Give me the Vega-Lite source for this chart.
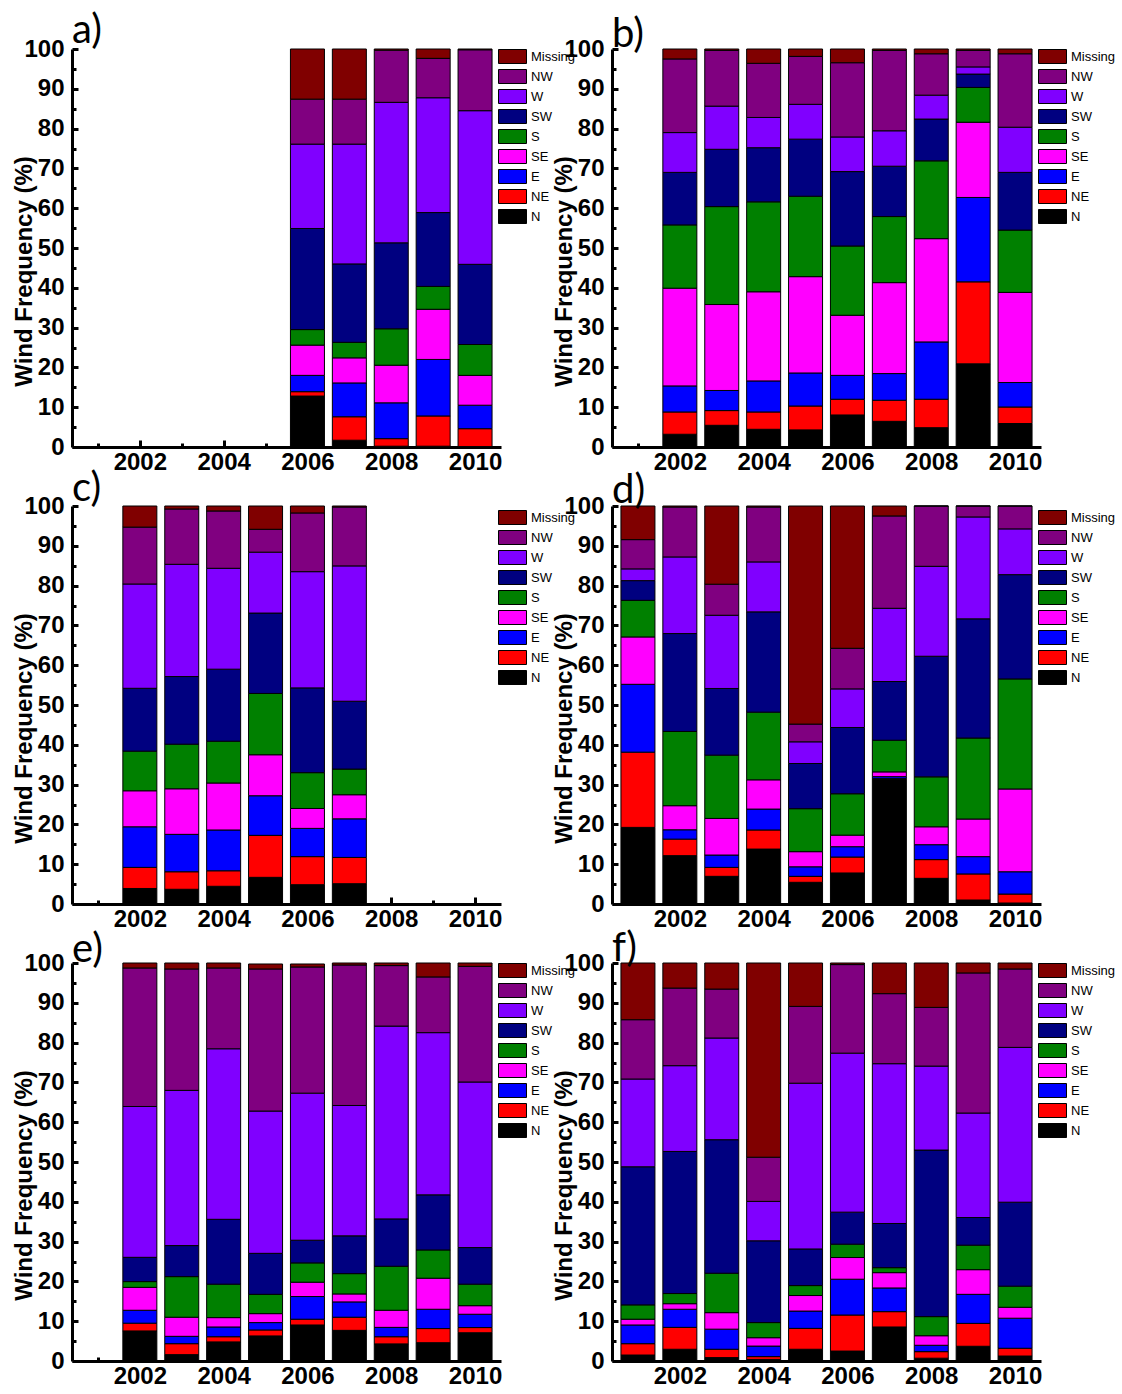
{
  "$schema": "https://vega.github.io/schema/vega-lite/v6.json",
  "padding": {"left": 12, "top": 11, "right": 5, "bottom": 0},
  "background": "white",
  "datasets": {
    "wind": [
      {"p":"a","year":2006,"N":12.8,"NE":1.1,"E":4.1,"SE":7.6,"S":3.9,"SW":25.4,"W":21.2,"NW":11.3,"Missing":12.6},
      {"p":"a","year":2007,"N":1.7,"NE":5.9,"E":8.5,"SE":6.3,"S":3.9,"SW":19.7,"W":30.1,"NW":11.3,"Missing":12.6},
      {"p":"a","year":2008,"N":0.2,"NE":1.9,"E":9.0,"SE":9.45,"S":9.15,"SW":21.6,"W":35.3,"NW":13.1,"Missing":0.3},
      {"p":"a","year":2009,"N":0.2,"NE":7.6,"E":14.2,"SE":12.6,"S":5.75,"SW":18.55,"W":28.85,"NW":9.9,"Missing":2.35},
      {"p":"a","year":2010,"N":0.1,"NE":4.5,"E":5.9,"SE":7.5,"S":7.75,"SW":20.15,"W":38.6,"NW":15.3,"Missing":0.2},
      {"p":"b","year":2002,"N":3.2,"NE":5.6,"E":6.55,"SE":24.55,"S":15.9,"SW":13.2,"W":10.0,"NW":18.5,"Missing":2.5},
      {"p":"b","year":2003,"N":5.45,"NE":3.7,"E":5.05,"SE":21.6,"S":24.6,"SW":14.4,"W":10.85,"NW":14.0,"Missing":0.35},
      {"p":"b","year":2004,"N":4.45,"NE":4.35,"E":7.8,"SE":22.4,"S":22.6,"SW":13.6,"W":7.6,"NW":13.6,"Missing":3.6},
      {"p":"b","year":2005,"N":4.3,"NE":6.0,"E":8.3,"SE":24.2,"S":20.2,"SW":14.35,"W":8.75,"NW":12.05,"Missing":1.85},
      {"p":"b","year":2006,"N":8.05,"NE":3.95,"E":6.0,"SE":15.1,"S":17.4,"SW":18.7,"W":8.7,"NW":18.65,"Missing":3.45},
      {"p":"b","year":2007,"N":6.45,"NE":5.3,"E":6.7,"SE":22.85,"S":16.6,"SW":12.65,"W":8.9,"NW":20.2,"Missing":0.35},
      {"p":"b","year":2008,"N":4.85,"NE":7.15,"E":14.4,"SE":25.95,"S":19.55,"SW":10.5,"W":6.0,"NW":10.4,"Missing":1.2},
      {"p":"b","year":2009,"N":20.9,"NE":20.6,"E":21.2,"SE":18.9,"S":8.75,"SW":3.35,"W":1.8,"NW":4.15,"Missing":0.35},
      {"p":"b","year":2010,"N":5.9,"NE":4.15,"E":6.15,"SE":22.65,"S":15.65,"SW":14.5,"W":11.35,"NW":18.45,"Missing":1.2},
      {"p":"c","year":2002,"N":3.9,"NE":5.3,"E":10.2,"SE":9.05,"S":9.95,"SW":15.8,"W":26.2,"NW":14.3,"Missing":5.3},
      {"p":"c","year":2003,"N":3.7,"NE":4.4,"E":9.4,"SE":11.45,"S":11.2,"SW":17.0,"W":28.2,"NW":13.9,"Missing":0.75},
      {"p":"c","year":2004,"N":4.45,"NE":3.9,"E":10.25,"SE":11.8,"S":10.5,"SW":18.1,"W":25.35,"NW":14.4,"Missing":1.25},
      {"p":"c","year":2005,"N":6.7,"NE":10.55,"E":9.95,"SE":10.3,"S":15.4,"SW":20.2,"W":15.3,"NW":5.75,"Missing":5.85},
      {"p":"c","year":2006,"N":4.85,"NE":7.05,"E":7.1,"SE":5.0,"S":9.0,"SW":21.3,"W":29.2,"NW":14.75,"Missing":1.75},
      {"p":"c","year":2007,"N":5.1,"NE":6.6,"E":9.7,"SE":6.05,"S":6.45,"SW":17.05,"W":34.0,"NW":14.8,"Missing":0.25},
      {"p":"d","year":2001,"N":19.25,"NE":18.9,"E":17.05,"SE":11.9,"S":9.2,"SW":4.95,"W":2.95,"NW":7.35,"Missing":8.45},
      {"p":"d","year":2002,"N":12.15,"NE":4.15,"E":2.35,"SE":6.05,"S":18.65,"SW":24.6,"W":19.25,"NW":12.55,"Missing":0.25},
      {"p":"d","year":2003,"N":6.95,"NE":2.25,"E":3.1,"SE":9.2,"S":15.9,"SW":16.75,"W":18.4,"NW":7.8,"Missing":19.65},
      {"p":"d","year":2004,"N":13.8,"NE":4.8,"E":5.25,"SE":7.35,"S":17.0,"SW":25.2,"W":12.55,"NW":13.8,"Missing":0.25},
      {"p":"d","year":2005,"N":5.45,"NE":1.5,"E":2.4,"SE":3.8,"S":10.8,"SW":11.35,"W":5.45,"NW":4.45,"Missing":54.8},
      {"p":"d","year":2006,"N":7.8,"NE":4.0,"E":2.6,"SE":2.9,"S":10.4,"SW":16.65,"W":9.7,"NW":10.2,"Missing":35.75},
      {"p":"d","year":2007,"N":31.3,"NE":0.2,"E":0.5,"SE":1.2,"S":7.95,"SW":14.75,"W":18.4,"NW":23.2,"Missing":2.5},
      {"p":"d","year":2008,"N":6.45,"NE":4.7,"E":3.75,"SE":4.5,"S":12.55,"SW":30.3,"W":22.6,"NW":15.15,"Missing":0},
      {"p":"d","year":2009,"N":1.0,"NE":6.55,"E":4.35,"SE":9.45,"S":20.35,"SW":29.95,"W":25.6,"NW":2.75,"Missing":0},
      {"p":"d","year":2010,"N":0.25,"NE":2.25,"E":5.6,"SE":20.8,"S":27.65,"SW":26.2,"W":11.5,"NW":5.75,"Missing":0},
      {"p":"e","year":2002,"N":7.55,"NE":1.95,"E":3.25,"SE":5.75,"S":1.45,"SW":6.1,"W":37.9,"NW":34.8,"Missing":1.25},
      {"p":"e","year":2003,"N":1.6,"NE":2.75,"E":1.85,"SE":4.8,"S":10.2,"SW":7.8,"W":39.0,"NW":30.5,"Missing":1.5},
      {"p":"e","year":2004,"N":4.8,"NE":1.3,"E":2.45,"SE":2.35,"S":8.4,"SW":16.3,"W":42.85,"NW":20.3,"Missing":1.25},
      {"p":"e","year":2005,"N":6.3,"NE":1.5,"E":1.85,"SE":2.25,"S":4.85,"SW":10.3,"W":35.75,"NW":35.7,"Missing":1.25},
      {"p":"e","year":2006,"N":9.05,"NE":1.45,"E":5.7,"SE":3.6,"S":4.85,"SW":5.7,"W":36.95,"NW":31.7,"Missing":0.75},
      {"p":"e","year":2007,"N":7.7,"NE":3.3,"E":3.85,"SE":2.0,"S":5.1,"SW":9.5,"W":32.75,"NW":35.3,"Missing":0.5},
      {"p":"e","year":2008,"N":4.3,"NE":1.8,"E":2.35,"SE":4.3,"S":11.05,"SW":11.9,"W":48.45,"NW":15.2,"Missing":0.65},
      {"p":"e","year":2009,"N":4.6,"NE":3.55,"E":4.85,"SE":7.8,"S":7.1,"SW":13.85,"W":40.75,"NW":14.0,"Missing":3.5},
      {"p":"e","year":2010,"N":7.1,"NE":1.3,"E":3.35,"SE":2.15,"S":5.4,"SW":9.2,"W":41.6,"NW":29.05,"Missing":0.85},
      {"p":"f","year":2001,"N":1.5,"NE":2.85,"E":4.7,"SE":1.45,"S":3.6,"SW":34.7,"W":22.05,"NW":14.9,"Missing":14.25},
      {"p":"f","year":2002,"N":2.95,"NE":5.5,"E":4.55,"SE":1.4,"S":2.55,"SW":35.7,"W":21.55,"NW":19.5,"Missing":6.3},
      {"p":"f","year":2003,"N":0.85,"NE":2.1,"E":5.05,"SE":4.15,"S":9.9,"SW":33.55,"W":25.55,"NW":12.3,"Missing":6.55},
      {"p":"f","year":2004,"N":0.4,"NE":0.7,"E":2.65,"SE":2.1,"S":3.8,"SW":20.55,"W":9.9,"NW":11.1,"Missing":48.8},
      {"p":"f","year":2005,"N":2.95,"NE":5.25,"E":4.35,"SE":3.9,"S":2.5,"SW":9.2,"W":41.65,"NW":19.3,"Missing":10.9},
      {"p":"f","year":2006,"N":2.5,"NE":9.05,"E":9.0,"SE":5.45,"S":3.35,"SW":8.05,"W":39.95,"NW":22.25,"Missing":0.4},
      {"p":"f","year":2007,"N":8.55,"NE":3.85,"E":5.95,"SE":3.85,"S":1.25,"SW":11.1,"W":40.15,"NW":17.6,"Missing":7.7},
      {"p":"f","year":2008,"N":0.7,"NE":1.65,"E":1.6,"SE":2.4,"S":4.8,"SW":41.85,"W":21.1,"NW":14.75,"Missing":11.15},
      {"p":"f","year":2009,"N":3.7,"NE":5.75,"E":7.3,"SE":6.2,"S":6.15,"SW":6.95,"W":26.25,"NW":35.2,"Missing":2.5},
      {"p":"f","year":2010,"N":1.25,"NE":1.95,"E":7.55,"SE":2.75,"S":5.3,"SW":21.1,"W":38.9,"NW":19.7,"Missing":1.5}
    ]
  },
  "data": {"name": "wind"},
  "transform": [
    {"fold": ["N","NE","E","SE","S","SW","W","NW","Missing"], "as": ["dir","pct"]},
    {"calculate": "indexof(['N','NE','E','SE','S','SW','W','NW','Missing'], datum.dir)", "as": "o"}
  ],
  "columns": 2,
  "bounds": "flush",
  "spacing": {"row": 59, "column": 111},
  "resolve": {"legend": {"color": "independent"}},
  "concat": [
    {
      "title": {"text": "a)", "dy": 20},
      "width": 429, "height": 398,
      "transform": [{"filter": "datum.p == 'a'"}],
      "mark": {"type": "bar", "width": 34, "stroke": "black", "strokeWidth": 1},
      "encoding": {
        "x": {"field": "year", "type": "quantitative", "scale": {"domain": [2000.5, 2010.5], "nice": false, "zero": false}, "axis": {"values": [2001,2002,2003,2004,2005,2006,2007,2008,2009,2010], "format": "d", "labelExpr": "datum.value % 2 == 0 ? datum.label : ''", "tickSize": {"condition": {"test": "datum.value % 2 == 0", "value": -7}, "value": -4}, "title": null}},
        "y": {"field": "pct", "type": "quantitative", "stack": "zero", "scale": {"domain": [0, 100], "nice": false}, "axis": {"values": [0,5,10,15,20,25,30,35,40,45,50,55,60,65,70,75,80,85,90,95,100], "labelExpr": "datum.value % 10 == 0 ? datum.label : ''", "tickSize": {"condition": {"test": "datum.value % 10 == 0", "value": -6}, "value": -4}, "title": "Wind Frequency (%)"}},
        "color": {"field": "dir", "type": "nominal", "scale": {"domain": ["Missing","NW","W","SW","S","SE","E","NE","N"], "range": ["#800000","#800080","#8000FF","#000080","#008000","#FF00FF","#0000FF","#FF0000","#000000"]}, "legend": {"legendY": 0}},
        "order": {"field": "o", "type": "quantitative"}
      }
    },
    {
      "title": {"text": "b)", "dy": 24},
      "width": 429, "height": 398,
      "transform": [{"filter": "datum.p == 'b'"}],
      "mark": {"type": "bar", "width": 34, "stroke": "black", "strokeWidth": 1},
      "encoding": {
        "x": {"field": "year", "type": "quantitative", "scale": {"domain": [2000.5, 2010.5], "nice": false, "zero": false}, "axis": {"values": [2001,2002,2003,2004,2005,2006,2007,2008,2009,2010], "format": "d", "labelExpr": "datum.value % 2 == 0 ? datum.label : ''", "tickSize": {"condition": {"test": "datum.value % 2 == 0", "value": -7}, "value": -4}, "title": null}},
        "y": {"field": "pct", "type": "quantitative", "stack": "zero", "scale": {"domain": [0, 100], "nice": false}, "axis": {"values": [0,5,10,15,20,25,30,35,40,45,50,55,60,65,70,75,80,85,90,95,100], "labelExpr": "datum.value % 10 == 0 ? datum.label : ''", "tickSize": {"condition": {"test": "datum.value % 10 == 0", "value": -6}, "value": -4}, "title": "Wind Frequency (%)"}},
        "color": {"field": "dir", "type": "nominal", "scale": {"domain": ["Missing","NW","W","SW","S","SE","E","NE","N"], "range": ["#800000","#800080","#8000FF","#000080","#008000","#FF00FF","#0000FF","#FF0000","#000000"]}, "legend": {"legendY": 0}},
        "order": {"field": "o", "type": "quantitative"}
      }
    },
    {
      "title": {"text": "c)", "dy": 21},
      "width": 429, "height": 398,
      "transform": [{"filter": "datum.p == 'c'"}],
      "mark": {"type": "bar", "width": 34, "stroke": "black", "strokeWidth": 1},
      "encoding": {
        "x": {"field": "year", "type": "quantitative", "scale": {"domain": [2000.5, 2010.5], "nice": false, "zero": false}, "axis": {"values": [2001,2002,2003,2004,2005,2006,2007,2008,2009,2010], "format": "d", "labelExpr": "datum.value % 2 == 0 ? datum.label : ''", "tickSize": {"condition": {"test": "datum.value % 2 == 0", "value": -7}, "value": -4}, "title": null}},
        "y": {"field": "pct", "type": "quantitative", "stack": "zero", "scale": {"domain": [0, 100], "nice": false}, "axis": {"values": [0,5,10,15,20,25,30,35,40,45,50,55,60,65,70,75,80,85,90,95,100], "labelExpr": "datum.value % 10 == 0 ? datum.label : ''", "tickSize": {"condition": {"test": "datum.value % 10 == 0", "value": -6}, "value": -4}, "title": "Wind Frequency (%)"}},
        "color": {"field": "dir", "type": "nominal", "scale": {"domain": ["Missing","NW","W","SW","S","SE","E","NE","N"], "range": ["#800000","#800080","#8000FF","#000080","#008000","#FF00FF","#0000FF","#FF0000","#000000"]}, "legend": {"legendY": 4}},
        "order": {"field": "o", "type": "quantitative"}
      }
    },
    {
      "title": {"text": "d)", "dy": 23},
      "width": 429, "height": 398,
      "transform": [{"filter": "datum.p == 'd'"}],
      "mark": {"type": "bar", "width": 34, "stroke": "black", "strokeWidth": 1},
      "encoding": {
        "x": {"field": "year", "type": "quantitative", "scale": {"domain": [2000.5, 2010.5], "nice": false, "zero": false}, "axis": {"values": [2001,2002,2003,2004,2005,2006,2007,2008,2009,2010], "format": "d", "labelExpr": "datum.value % 2 == 0 ? datum.label : ''", "tickSize": {"condition": {"test": "datum.value % 2 == 0", "value": -7}, "value": -4}, "title": null}},
        "y": {"field": "pct", "type": "quantitative", "stack": "zero", "scale": {"domain": [0, 100], "nice": false}, "axis": {"values": [0,5,10,15,20,25,30,35,40,45,50,55,60,65,70,75,80,85,90,95,100], "labelExpr": "datum.value % 10 == 0 ? datum.label : ''", "tickSize": {"condition": {"test": "datum.value % 10 == 0", "value": -6}, "value": -4}, "title": "Wind Frequency (%)"}},
        "color": {"field": "dir", "type": "nominal", "scale": {"domain": ["Missing","NW","W","SW","S","SE","E","NE","N"], "range": ["#800000","#800080","#8000FF","#000080","#008000","#FF00FF","#0000FF","#FF0000","#000000"]}, "legend": {"legendY": 4}},
        "order": {"field": "o", "type": "quantitative"}
      }
    },
    {
      "title": {"text": "e)", "dy": 25},
      "width": 429, "height": 398,
      "transform": [{"filter": "datum.p == 'e'"}],
      "mark": {"type": "bar", "width": 34, "stroke": "black", "strokeWidth": 1},
      "encoding": {
        "x": {"field": "year", "type": "quantitative", "scale": {"domain": [2000.5, 2010.5], "nice": false, "zero": false}, "axis": {"values": [2001,2002,2003,2004,2005,2006,2007,2008,2009,2010], "format": "d", "labelExpr": "datum.value % 2 == 0 ? datum.label : ''", "tickSize": {"condition": {"test": "datum.value % 2 == 0", "value": -7}, "value": -4}, "title": null}},
        "y": {"field": "pct", "type": "quantitative", "stack": "zero", "scale": {"domain": [0, 100], "nice": false}, "axis": {"values": [0,5,10,15,20,25,30,35,40,45,50,55,60,65,70,75,80,85,90,95,100], "labelExpr": "datum.value % 10 == 0 ? datum.label : ''", "tickSize": {"condition": {"test": "datum.value % 10 == 0", "value": -6}, "value": -4}, "title": "Wind Frequency (%)"}},
        "color": {"field": "dir", "type": "nominal", "scale": {"domain": ["Missing","NW","W","SW","S","SE","E","NE","N"], "range": ["#800000","#800080","#8000FF","#000080","#008000","#FF00FF","#0000FF","#FF0000","#000000"]}, "legend": {"legendY": 0}},
        "order": {"field": "o", "type": "quantitative"}
      }
    },
    {
      "title": {"text": "f)", "dy": 24},
      "width": 429, "height": 398,
      "transform": [{"filter": "datum.p == 'f'"}],
      "mark": {"type": "bar", "width": 34, "stroke": "black", "strokeWidth": 1},
      "encoding": {
        "x": {"field": "year", "type": "quantitative", "scale": {"domain": [2000.5, 2010.5], "nice": false, "zero": false}, "axis": {"values": [2001,2002,2003,2004,2005,2006,2007,2008,2009,2010], "format": "d", "labelExpr": "datum.value % 2 == 0 ? datum.label : ''", "tickSize": {"condition": {"test": "datum.value % 2 == 0", "value": -7}, "value": -4}, "title": null}},
        "y": {"field": "pct", "type": "quantitative", "stack": "zero", "scale": {"domain": [0, 100], "nice": false}, "axis": {"values": [0,5,10,15,20,25,30,35,40,45,50,55,60,65,70,75,80,85,90,95,100], "labelExpr": "datum.value % 10 == 0 ? datum.label : ''", "tickSize": {"condition": {"test": "datum.value % 10 == 0", "value": -6}, "value": -4}, "title": "Wind Frequency (%)"}},
        "color": {"field": "dir", "type": "nominal", "scale": {"domain": ["Missing","NW","W","SW","S","SE","E","NE","N"], "range": ["#800000","#800080","#8000FF","#000080","#008000","#FF00FF","#0000FF","#FF0000","#000000"]}, "legend": {"legendY": 0}},
        "order": {"field": "o", "type": "quantitative"}
      }
    }
  ],
  "config": {
    "view": {"stroke": null},
    "font": "Liberation Sans",
    "axis": {
      "domainColor": "black", "domainWidth": 3, "tickColor": "black", "tickWidth": 3, "grid": false,
      "labelFont": "Liberation Sans", "labelFontWeight": "bold", "labelFontSize": 24, "labelColor": "black",
      "labelOverlap": false, "labelFlush": false, "labelPadding": 10,
      "titleFont": "Liberation Sans", "titleFontWeight": "bold", "titleFontSize": 24, "titleColor": "black"
    },
    "axisY": {"labelPadding": 14, "titleX": -41, "titleY": 222, "titleAngle": -90, "titleAlign": "center", "titleBaseline": "alphabetic"},
    "legend": {
      "orient": "none", "legendX": 433, "legendY": 0, "title": null, "padding": 0,
      "symbolType": "M-2,-1H2V1H-2Z", "symbolSize": 196, "symbolStrokeColor": "black", "symbolStrokeWidth": 1,
      "labelFont": "Liberation Sans", "labelFontSize": 13, "labelColor": "black", "labelOffset": 11, "rowPadding": 1
    },
    "title": {"font": "Lato", "fontSize": 40, "fontWeight": "normal", "color": "black", "anchor": "start", "frame": "group", "baseline": "alphabetic", "offset": 6}
  }
}
